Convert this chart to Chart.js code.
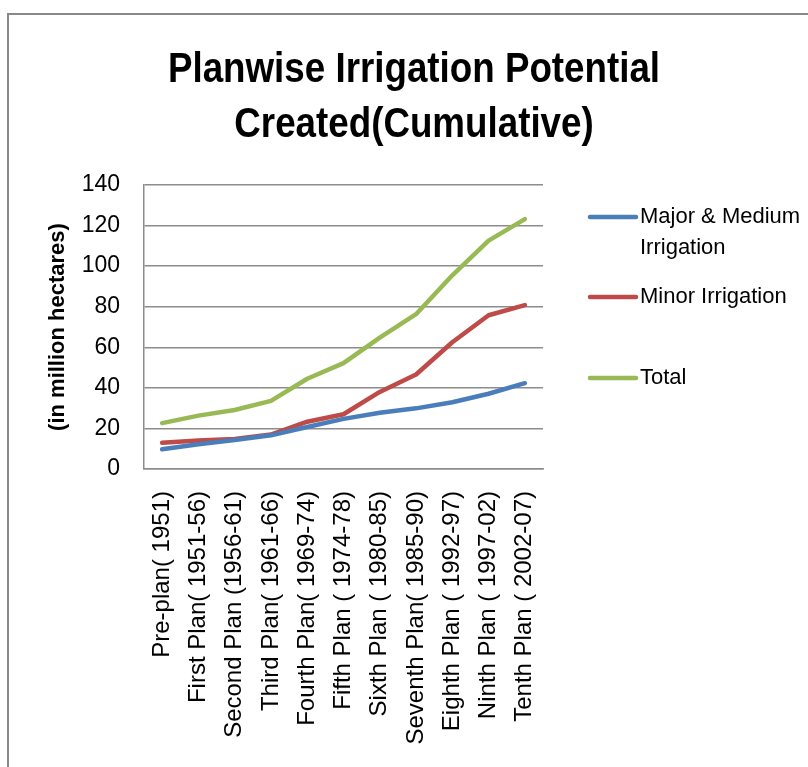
<!DOCTYPE html>
<html>
<head>
<meta charset="utf-8">
<script src="https://cdn.jsdelivr.net/npm/chart.js@4/dist/chart.umd.min.js"></script>
<style>
  html, body { margin: 0; padding: 0; background: #ffffff; }
  #wrap { position: relative; width: 808px; height: 767px; }
</style>
</head>
<body>
<div id="wrap"><canvas id="c"></canvas></div>
<script>
// ---- data ----
const categories = [
  "Pre-plan( 1951)", "First Plan( 1951-56)", "Second Plan (1956-61)", "Third Plan( 1961-66)",
  "Fourth Plan( 1969-74)", "Fifth Plan ( 1974-78)", "Sixth Plan ( 1980-85)", "Seventh Plan( 1985-90)",
  "Eighth Plan ( 1992-97)", "Ninth Plan ( 1997-02)", "Tenth Plan ( 2002-07)"
];
const seriesNames = ["Major & Medium Irrigation", "Minor Irrigation", "Total"];
const majorMedium = [9.7, 12.2, 14.3, 16.6, 20.7, 24.7, 27.7, 29.9, 32.9, 37.1, 42.3];
const minorIrr   = [12.9, 14.1, 14.8, 17.0, 23.3, 27.0, 38.0, 46.6, 62.5, 75.8, 80.8];
const totalIrr   = [22.6, 26.3, 29.1, 33.6, 44.5, 52.2, 64.8, 76.3, 95.5, 112.6, 123.2];
const yTicks = [0, 20, 40, 60, 80, 100, 120, 140];
const titleLines = ["Planwise Irrigation Potential", "Created(Cumulative)"];
const yTitle = "(in million hectares)";

const colors = ["#4A7EBB", "#BE4B48", "#98B954"];
const gridColor = "#8c8c8c";

const decorPlugin = {
  id: "decor",
  beforeDraw(chart) {
    const ctx = chart.ctx;
    ctx.save();
    ctx.fillStyle = "#ffffff";
    ctx.fillRect(0, 0, chart.width, chart.height);
    ctx.strokeStyle = "#888888";
    ctx.lineWidth = 2;
    ctx.beginPath();
    ctx.moveTo(8, chart.height + 5);
    ctx.lineTo(8, 14);
    ctx.lineTo(chart.width + 5, 14);
    ctx.stroke();
    ctx.restore();
  },
  afterDraw(chart) {
    const ctx = chart.ctx;
    ctx.save();
    // title (condensed horizontally)
    ctx.fillStyle = "#000000";
    ctx.font = "bold 42px 'Liberation Sans', sans-serif";
    ctx.textAlign = "center";
    ctx.textBaseline = "alphabetic";
    const sx = 0.875;
    ctx.save();
    ctx.translate(414, 0);
    ctx.scale(sx, 1);
    ctx.fillText(titleLines[0], 0, 82);
    ctx.fillText(titleLines[1], 0, 137);
    ctx.restore();
    // legend
    const legendY = [217, 297, 378];
    ctx.font = "22px 'Liberation Sans', sans-serif";
    ctx.textAlign = "left";
    ctx.textBaseline = "middle";
    chart.data.datasets.forEach((ds, i) => {
      const y = legendY[i];
      ctx.strokeStyle = ds.borderColor;
      ctx.lineWidth = 4.5;
      ctx.lineCap = "round";
      ctx.beginPath();
      ctx.moveTo(590, y);
      ctx.lineTo(636, y);
      ctx.stroke();
      const words = ds.label.split(" ");
      const lines = [];
      let cur = "";
      words.forEach(w => {
        const test = cur ? cur + " " + w : w;
        if (ctx.measureText(test).width > 168 && cur) { lines.push(cur); cur = w; }
        else cur = test;
      });
      lines.push(cur);
      ctx.fillStyle = "#000000";
      lines.forEach((l, k) => ctx.fillText(l, 640, y + k * 31));
    });
    ctx.restore();
  }
};

new Chart(document.getElementById("c"), {
  type: "line",
  data: {
    labels: categories,
    datasets: [
      { label: seriesNames[0], data: majorMedium, borderColor: colors[0], backgroundColor: colors[0] },
      { label: seriesNames[1], data: minorIrr, borderColor: colors[1], backgroundColor: colors[1] },
      { label: seriesNames[2], data: totalIrr, borderColor: colors[2], backgroundColor: colors[2] }
    ]
  },
  options: {
    responsive: true,
    maintainAspectRatio: false,
    animation: false,
    devicePixelRatio: 1,
    layout: { padding: { top: 185, left: 41, right: 265, bottom: 0 } },
    elements: {
      line: { borderWidth: 4.5, tension: 0, borderCapStyle: "round", borderJoinStyle: "round" },
      point: { radius: 0, hoverRadius: 0 }
    },
    plugins: {
      legend: { display: false },
      title: { display: false },
      tooltip: { enabled: false }
    },
    scales: {
      x: {
        offset: true,
        grid: { display: false, drawTicks: false },
        border: { display: true, color: gridColor, width: 1.5 },
        ticks: {
          autoSkip: false,
          maxRotation: 90,
          minRotation: 90,
          padding: 22,
          color: "#000000",
          font: { family: "'Liberation Sans', sans-serif", size: 24 }
        },
        afterFit(scale) { scale.height = 298; }
      },
      y: {
        min: 0,
        max: 140,
        afterBuildTicks(scale) { scale.ticks = yTicks.map(v => ({ value: v })); },
        grid: { color: gridColor, lineWidth: 1.5, drawTicks: false },
        border: { display: true, color: gridColor, width: 1.5 },
        ticks: {
          padding: 24,
          color: "#000000",
          font: { family: "'Liberation Sans', sans-serif", size: 23 }
        },
        title: {
          display: true,
          text: yTitle,
          color: "#000000",
          padding: { top: 4, bottom: 4 },
          font: { family: "'Liberation Sans', sans-serif", size: 22, weight: "bold" }
        },
        afterFit(scale) { scale.width = 103; }
      }
    }
  },
  plugins: [decorPlugin]
});
</script>
</body>
</html>
